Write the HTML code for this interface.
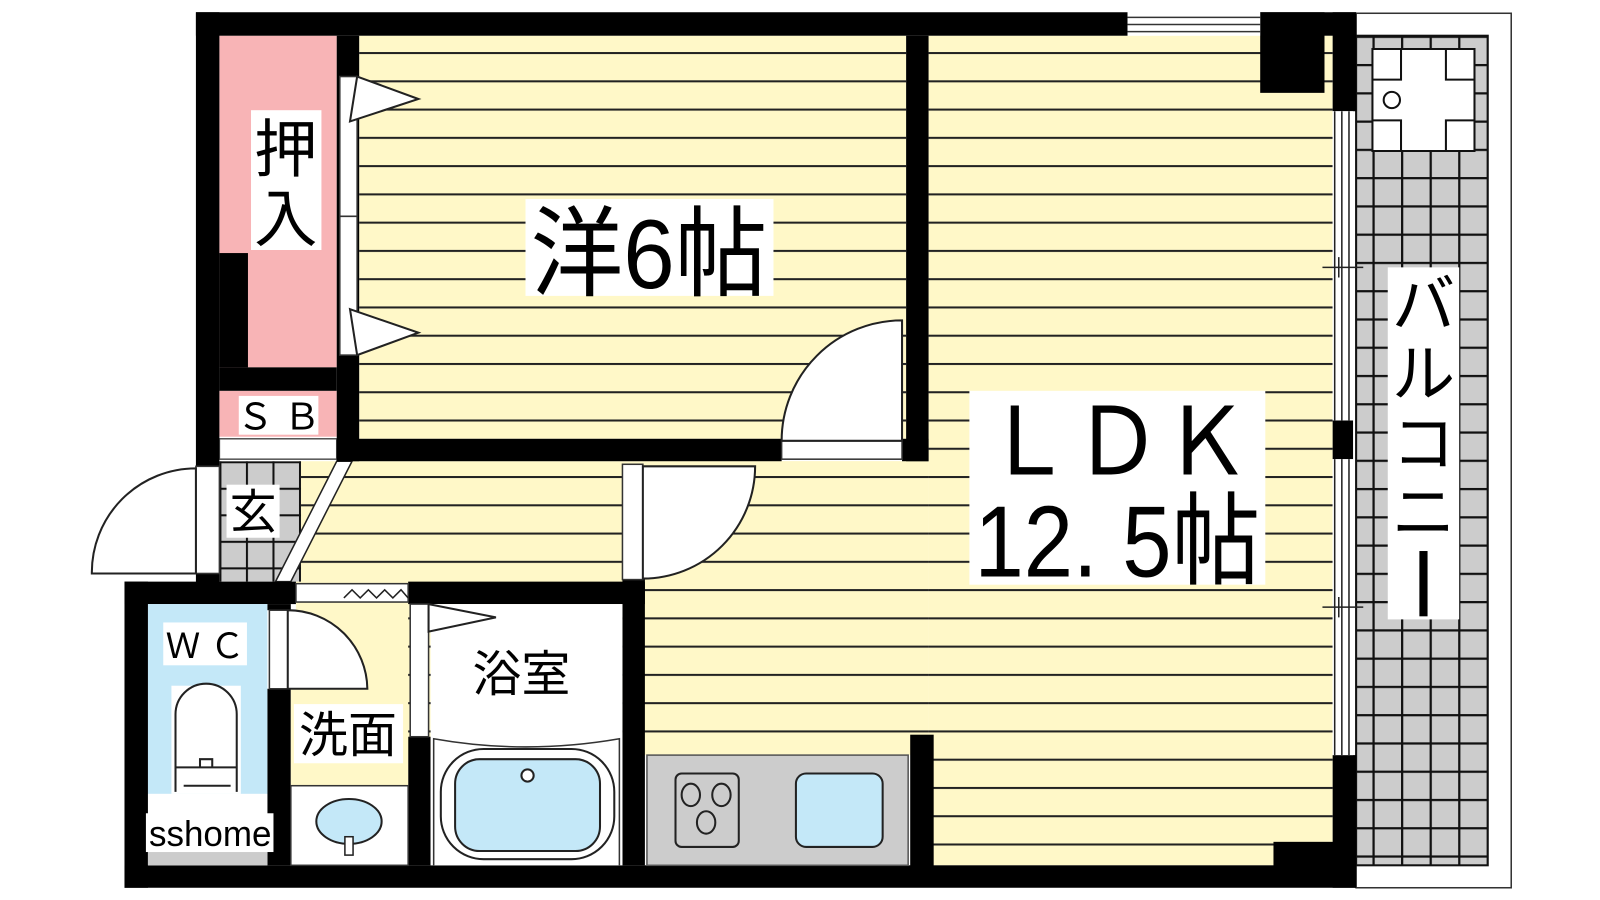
<!DOCTYPE html>
<html><head><meta charset="utf-8"><style>
html,body{margin:0;padding:0;background:#fff;}
svg{display:block;}
text{font-family:"Liberation Sans","Noto Sans CJK JP",sans-serif;}
</style></head><body>
<svg width="1600" height="900" viewBox="0 0 1568 882" xmlns="http://www.w3.org/2000/svg">
<defs>
<pattern id="fl" x="0" y="51" width="1568" height="27.7" patternUnits="userSpaceOnUse">
<rect width="1568" height="27.7" fill="#fff8c8"/>
<rect y="0" width="1568" height="2" fill="#222"/>
</pattern>
<pattern id="tile" x="1345" y="35" width="28" height="27.7" patternUnits="userSpaceOnUse">
<rect width="28" height="27.7" fill="#cccccc"/>
<rect width="2.2" height="27.7" fill="#111"/>
<rect width="28" height="2.2" fill="#111"/>
</pattern>
<pattern id="tile2" x="215" y="452" width="26" height="26" patternUnits="userSpaceOnUse">
<rect width="26" height="26" fill="#cccccc"/>
<rect width="2" height="26" fill="#111"/>
<rect width="26" height="2" fill="#111"/>
</pattern>
</defs>

<rect x="1329" y="13" width="152" height="857" fill="#fff" stroke="#333" stroke-width="1.5"/>
<rect x="1329" y="35" width="129" height="813" fill="url(#tile)" stroke="#111" stroke-width="2"/>
<path d="M1345 48 H1445 V148 H1345 Z" fill="#fff" stroke="#111" stroke-width="2"/>
<path d="M1345 78 H1373 V48 M1417 48 V78 H1445 M1345 118 H1373 V148 M1417 148 V118 H1445" fill="none" stroke="#111" stroke-width="2"/>
<circle cx="1364" cy="98" r="8" fill="#fff" stroke="#111" stroke-width="2"/>
<rect x="1360" y="262" width="70" height="345" fill="#fff"/>
<text x="1395" y="320" font-size="62" text-anchor="middle">バ</text>
<text x="1395" y="388" font-size="62" text-anchor="middle">ル</text>
<text x="1395" y="456" font-size="62" text-anchor="middle">コ</text>
<text x="1395" y="524" font-size="62" text-anchor="middle">ニ</text>
<rect x="1391" y="540" width="8" height="64" fill="#000"/>

<rect x="352" y="35" width="536" height="395" fill="url(#fl)"/>
<rect x="910" y="35" width="396" height="813" fill="url(#fl)"/>
<rect x="290" y="452" width="620" height="288" fill="url(#fl)"/>
<rect x="630" y="452" width="280" height="288" fill="url(#fl)"/>
<rect x="215" y="452" width="80" height="118" fill="url(#tile2)"/>
<polygon points="330,452 345,452 285,570 270,570" fill="#fff" stroke="#222" stroke-width="1.5"/>

<rect x="215" y="35" width="115" height="325" fill="#f8b4b6"/>
<rect x="215" y="248" width="28" height="112" fill="#000"/>
<rect x="215" y="383" width="115" height="45" fill="#f8b4b6"/>
<rect x="215" y="430" width="115" height="20" fill="#fff" stroke="#555" stroke-width="1.5"/>
<rect x="246" y="108" width="69" height="137" fill="#fff"/>
<text x="280" y="168" font-size="62" text-anchor="middle">押</text>
<text x="280" y="236" font-size="62" text-anchor="middle">入</text>
<rect x="234" y="388" width="78" height="38" fill="#fff"/>
<text x="273" y="421" font-size="36" text-anchor="middle">Ｓ Ｂ</text>

<g fill="#000">
<rect x="192" y="12" width="913" height="23"/>
<rect x="1235" y="12" width="94" height="23"/>
<rect x="1235" y="12" width="63" height="79"/>
<rect x="1306" y="12" width="23" height="97"/>
<rect x="1306" y="412" width="20" height="38"/>
<rect x="1306" y="740" width="23" height="130"/>
<rect x="1248" y="825" width="60" height="25"/>
<rect x="192" y="12" width="23" height="445"/>
<rect x="215" y="360" width="115" height="23"/>
<rect x="330" y="35" width="22" height="417"/>
<rect x="330" y="430" width="436" height="22"/>
<rect x="884" y="430" width="26" height="22"/>
<rect x="888" y="35" width="22" height="417"/>
<rect x="122" y="570" width="168" height="22"/>
<rect x="122" y="570" width="23" height="300"/>
<rect x="192" y="562" width="23" height="10"/>
<rect x="400" y="570" width="232" height="22"/>
<rect x="610" y="565" width="22" height="283"/>
<rect x="262" y="675" width="23" height="173"/>
<rect x="262" y="592" width="23" height="6"/>
<rect x="400" y="722" width="22" height="126"/>
<rect x="892" y="720" width="23" height="130"/>
<rect x="122" y="848" width="1207" height="22"/>
</g>

<rect x="1105" y="12" width="130" height="23" fill="#fff"/>
<path d="M1105 17 H1235 M1105 24 H1235 M1105 31 H1235" stroke="#333" stroke-width="1.5"/>
<rect x="1306" y="109" width="20" height="303" fill="#fff"/>
<rect x="1306" y="450" width="20" height="290" fill="#fff"/>
<path d="M1308 109 V412 M1315 109 V412 M1322 109 V412 M1308 450 V740 M1315 450 V740 M1322 450 V740" stroke="#222" stroke-width="1.5"/>
<path d="M1296 262 H1336 M1312 252 V272 M1296 595 H1336 M1312 585 V605" stroke="#222" stroke-width="1.5"/>

<rect x="333" y="75" width="17" height="273" fill="#fff" stroke="#333" stroke-width="1.5"/>
<path d="M333 212 H350" stroke="#333" stroke-width="1.5"/>
<polygon points="350,75 410,97 343,119" fill="#fff" stroke="#222" stroke-width="2"/>
<polygon points="343,303 410,326 350,348" fill="#fff" stroke="#222" stroke-width="2"/>

<rect x="766" y="432" width="118" height="18" fill="#fff" stroke="#333" stroke-width="1.5"/>
<path d="M884 314 V432 H766 A118 118 0 0 1 884 314 Z" fill="#fff" stroke="#222" stroke-width="2"/>

<rect x="610" y="455" width="20" height="113" fill="#fff" stroke="#333" stroke-width="1.5"/>
<path d="M630 457 H740 A110 110 0 0 1 630 567 Z" fill="#fff" stroke="#222" stroke-width="2"/>

<rect x="192" y="457" width="23" height="105" fill="#fff" stroke="#333" stroke-width="1.5"/>
<path d="M192 459 V562 H90 A102 102 0 0 1 192 459 Z" fill="#fff" stroke="#222" stroke-width="2"/>
<rect x="222" y="475" width="52" height="52" fill="#fff"/>
<text x="248" y="518" font-size="46" text-anchor="middle">玄</text>

<rect x="145" y="592" width="117" height="186" fill="#c4e8f8"/>
<rect x="145" y="778" width="117" height="70" fill="#fff"/>
<rect x="145" y="830" width="117" height="18" fill="#ccc"/>
<rect x="160" y="610" width="82" height="42" fill="#fff"/>
<text x="201" y="645" font-size="34" text-anchor="middle">Ｗ Ｃ</text>
<rect x="168" y="672" width="68" height="106" fill="#fff"/>
<path d="M172 776 V700 A30 30 0 0 1 232 700 V776" fill="#fff" stroke="#222" stroke-width="2"/>
<path d="M172 752 H232 M196 752 V744 H208 V752 M180 770 H226" fill="none" stroke="#222" stroke-width="2"/>
<rect x="143" y="797" width="125" height="38" fill="#fff"/>
<text x="206" y="829" font-size="35" text-anchor="middle" textLength="120" lengthAdjust="spacingAndGlyphs">sshome</text>

<rect x="285" y="598" width="115" height="172" fill="#fff8c8"/>
<rect x="264" y="598" width="18" height="77" fill="#fff" stroke="#333" stroke-width="1.5"/>
<path d="M282 598 V675 H360 A78 78 0 0 0 282 598 Z" fill="#fff" stroke="#222" stroke-width="2"/>
<rect x="290" y="572" width="110" height="18" fill="#fff" stroke="#333" stroke-width="1.5"/>
<path d="M337 586 L345 578 L353 586 L361 578 L369 586 L377 578 L385 586 L393 578 L400 586" fill="none" stroke="#222" stroke-width="1.5"/>
<rect x="288" y="690" width="107" height="58" fill="#fff"/>
<text x="341" y="737" font-size="48" text-anchor="middle">洗面</text>
<rect x="285" y="770" width="115" height="78" fill="#fff" stroke="#333" stroke-width="1.5"/>
<ellipse cx="342" cy="805" rx="32" ry="22" fill="#c4e8f8" stroke="#222" stroke-width="2"/>
<rect x="338" y="820" width="8" height="18" fill="#fff" stroke="#222" stroke-width="1.5"/>

<rect x="422" y="592" width="188" height="256" fill="#fff"/>
<rect x="402" y="592" width="18" height="130" fill="#fff" stroke="#333" stroke-width="1.5"/>
<polygon points="420,592 486,605 420,619" fill="#fff" stroke="#222" stroke-width="2"/>
<rect x="452" y="632" width="118" height="56" fill="#fff"/>
<text x="511" y="677" font-size="48" text-anchor="middle">浴室</text>
<path d="M425 848 V724 Q515 740 607 724 V848" fill="#fff" stroke="#333" stroke-width="1.5"/>
<rect x="432" y="734" width="170" height="108" rx="42" fill="#fff" stroke="#222" stroke-width="2"/>
<rect x="446" y="744" width="142" height="90" rx="24" fill="#c4e8f8" stroke="#222" stroke-width="2"/>
<circle cx="517" cy="760" r="6" fill="#fff" stroke="#222" stroke-width="2"/>

<rect x="634" y="740" width="256" height="108" fill="#ccc" stroke="#555" stroke-width="1.5"/>
<rect x="662" y="758" width="62" height="72" rx="6" fill="none" stroke="#222" stroke-width="2"/>
<g fill="none" stroke="#222" stroke-width="2">
<ellipse cx="677" cy="779" rx="9" ry="11"/><ellipse cx="707" cy="779" rx="9" ry="11"/><ellipse cx="692" cy="806" rx="9" ry="11"/>
</g>
<rect x="780" y="758" width="85" height="72" rx="10" fill="#c4e8f8" stroke="#222" stroke-width="2"/>

<rect x="515" y="195" width="243" height="95" fill="#fff"/>
<text transform="translate(636,282) scale(1,1.15)" font-size="84" text-anchor="middle" textLength="232" lengthAdjust="spacingAndGlyphs">洋6帖</text>
<rect x="950" y="383" width="290" height="190" fill="#fff"/>
<text x="1095" y="465" font-size="92" text-anchor="middle" textLength="262" lengthAdjust="spacingAndGlyphs">ＬＤＫ</text>
<text transform="translate(1095,565) scale(1,1.15)" font-size="86" text-anchor="middle" textLength="280" lengthAdjust="spacingAndGlyphs">12. 5帖</text>
</svg>
</body></html>
